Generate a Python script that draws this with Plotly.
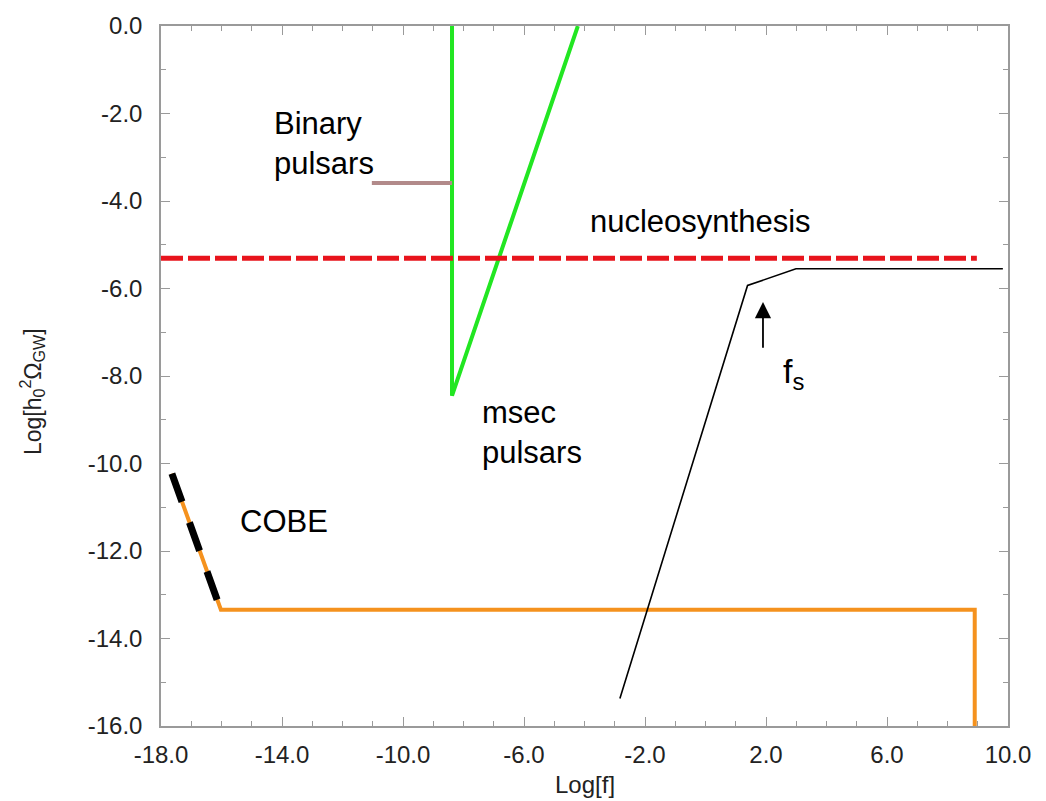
import plotly.graph_objects as go

# ---- data ----
x_ticks = [-18, -14, -10, -6, -2, 2, 6, 10]
x_tick_text = ["-18.0", "-14.0", "-10.0", "-6.0", "-2.0", "2.0", "6.0", "10.0"]
y_ticks = [0, -2, -4, -6, -8, -10, -12, -14, -16]
y_tick_text = ["0.0", "-2.0", "-4.0", "-6.0", "-8.0", "-10.0", "-12.0", "-14.0", "-16.0"]

msec_x = [-8.38, -8.38, -4.22]
msec_y = [0.0, -8.45, 0.0]

binary_x = [-11.03, -8.38]
binary_y = [-3.59, -3.59]

nucleo_x = [-18.0, 8.97]
nucleo_y = [-5.31, -5.31]

cobe_x = [-17.64, -16.02, 8.9, 8.9]
cobe_y = [-10.23, -13.34, -13.34, -16.0]

cobe_dash_x = [-17.64, -16.1]
cobe_dash_y = [-10.23, -13.2]

model_x = [-2.83, 1.39, 2.99, 9.83]
model_y = [-15.37, -5.93, -5.55, -5.55]

fs_arrow_x = 1.9
fs_arrow_tail_y = -7.39
fs_arrow_head_y = -6.31

FONT = "Liberation Sans, Arial, Helvetica, sans-serif"

fig = go.Figure()
fig.add_trace(go.Scatter(x=cobe_x, y=cobe_y, mode="lines",
                         line=dict(color="#f5921e", width=4), hoverinfo="skip"))
fig.add_trace(go.Scatter(x=cobe_dash_x, y=cobe_dash_y, mode="lines",
                         line=dict(color="black", width=7, dash="30px,22px"), hoverinfo="skip"))
fig.add_trace(go.Scatter(x=msec_x, y=msec_y, mode="lines",
                         line=dict(color="#22e622", width=4), hoverinfo="skip"))
fig.add_trace(go.Scatter(x=binary_x, y=binary_y, mode="lines",
                         line=dict(color="#b28a8a", width=4), hoverinfo="skip"))
fig.add_trace(go.Scatter(x=nucleo_x, y=nucleo_y, mode="lines",
                         line=dict(color="#e8141c", width=5, dash="22px,5px"), hoverinfo="skip"))
fig.add_trace(go.Scatter(x=model_x, y=model_y, mode="lines",
                         line=dict(color="black", width=1.6), hoverinfo="skip"))

lbl = dict(family=FONT, size=31, color="black")
fig.add_annotation(x=-14.33, y=-2.68, text="Binary<br>pulsars", showarrow=False,
                   xanchor="left", yanchor="middle", align="left", font=lbl)
fig.add_annotation(x=-3.88, y=-4.47, text="nucleosynthesis", showarrow=False,
                   xanchor="left", yanchor="middle", font=lbl)
fig.add_annotation(x=-7.45, y=-9.28, text="msec<br>pulsars", showarrow=False,
                   xanchor="left", yanchor="middle", align="left", font=lbl)
fig.add_annotation(x=-15.45, y=-11.33, text="COBE", showarrow=False,
                   xanchor="left", yanchor="middle", font=lbl)
fig.add_annotation(x=2.5, y=-7.95, text="f<sub>s</sub>", showarrow=False,
                   xanchor="left", yanchor="middle",
                   font=dict(family=FONT, size=34, color="black"))
fig.add_annotation(x=fs_arrow_x, y=fs_arrow_head_y, ax=fs_arrow_x, ay=fs_arrow_tail_y,
                   xref="x", yref="y", axref="x", ayref="y", text="",
                   showarrow=True, arrowhead=2, arrowsize=1.8, arrowwidth=1.8,
                   arrowcolor="black")

# axis titles
fig.add_annotation(x=0.5, y=-0.0837, xref="paper", yref="paper", text="Log[f]",
                   showarrow=False, xanchor="center", yanchor="middle",
                   font=dict(family=FONT, size=24, color="#222"))
fig.add_annotation(x=(32 - 161) / 847, y=0.477, xref="paper", yref="paper",
                   text="Log[h<sub>0</sub><sup>2</sup>Ω<sub>GW</sub>]", textangle=-90,
                   showarrow=False, xanchor="center", yanchor="middle",
                   font=dict(family=FONT, size=23, color="#222"))

axis_common = dict(showgrid=False, zeroline=False, showline=True, linecolor="#9a9a9a",
                   linewidth=1.5, mirror="ticks", ticks="inside", ticklen=9,
                   tickwidth=1.2, tickcolor="#9a9a9a",
                   tickfont=dict(family=FONT, size=24, color="#222"))

fig.update_xaxes(range=[-18, 10], tickmode="array", tickvals=x_ticks, ticktext=x_tick_text,
                 minor=dict(ticks="inside", ticklen=5, tickcolor="#9a9a9a", dtick=1, tick0=-18,
                            tickwidth=1.2),
                 ticklabelstandoff=6, **axis_common)
fig.update_yaxes(range=[-16, 0], tickmode="array", tickvals=y_ticks, ticktext=y_tick_text,
                 minor=dict(ticks="inside", ticklen=5, tickcolor="#9a9a9a", dtick=1, tick0=0,
                            tickwidth=1.2),
                 ticklabelstandoff=12, **axis_common)

fig.update_layout(width=1046, height=801, showlegend=False,
                  margin=dict(l=161, r=38, t=21, b=75),
                  plot_bgcolor="white", paper_bgcolor="white")

fig.write_html("out.html")
